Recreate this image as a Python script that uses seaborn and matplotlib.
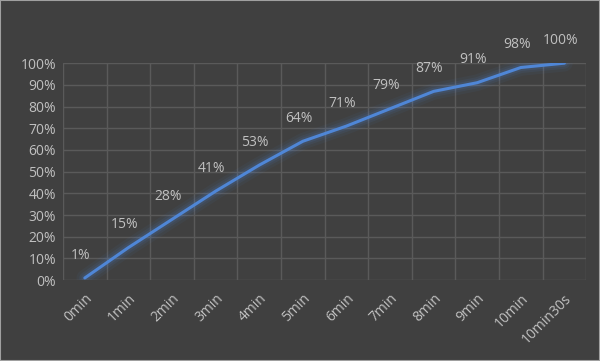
import seaborn as sns
import matplotlib.pyplot as plt
from matplotlib.ticker import MultipleLocator, PercentFormatter

# Dados
tempos = ['0min', '1min', '2min', '3min', '4min', '5min', '6min',
          '7min', '8min', '9min', '10min', '10min30s']
percentual = [1, 15, 28, 41, 53, 64, 71, 79, 87, 91, 98, 100]

fundo = '#404040'
texto = '#c0c0c0'
grade = '#5a5a5a'
azul = '#4f86d6'

sns.set_theme(style='dark')
plt.rcParams['font.family'] = ['Open Sans', 'DejaVu Sans']

fig = plt.figure(figsize=(6, 3.61), dpi=100, facecolor=fundo)
ax = fig.add_axes([0.105, 0.224, 0.872, 0.601])
ax.set_facecolor(fundo)

x = list(range(len(tempos)))
y = [p / 100 for p in percentual]

# brilho em volta da linha
for w, a in [(12, 0.06), (8, 0.09), (5, 0.13)]:
    ax.plot(x, y, color=azul, lw=w, alpha=a, solid_capstyle='round', zorder=2)
sns.lineplot(x=x, y=y, ax=ax, color=azul, lw=2.2, zorder=3)

# rótulos de dados
for xi, yi, p in zip(x, y, percentual):
    ax.annotate(f'{p}%', (xi, yi), xytext=(-3, 11), textcoords='offset points',
                ha='center', va='bottom', color=texto, fontsize=10)

ax.set_xlim(-0.5, len(tempos) - 0.5)
ax.set_ylim(0, 1)
ax.yaxis.set_major_locator(MultipleLocator(0.1))
ax.yaxis.set_major_formatter(PercentFormatter(1.0, decimals=0))
ax.set_xticks(x)
ax.set_xticklabels(tempos, rotation=45, ha='right', rotation_mode='anchor')
ax.set_xticks([i - 0.5 for i in range(len(tempos) + 1)], minor=True)

ax.grid(False)
ax.grid(which='minor', axis='x', color=grade, lw=1)
ax.grid(which='major', axis='y', color=grade, lw=1)
ax.tick_params(which='both', length=0, colors=texto, labelsize=10)
ax.tick_params(axis='x', pad=8)
ax.tick_params(axis='y', pad=5)
for s in ax.spines.values():
    s.set_visible(False)

fig.patches.append(plt.Rectangle((0, 0), 1, 1, transform=fig.transFigure,
                                 fill=False, edgecolor='#a0a0a0', lw=1.5))

fig.savefig('out.png', dpi=100, facecolor=fundo)
